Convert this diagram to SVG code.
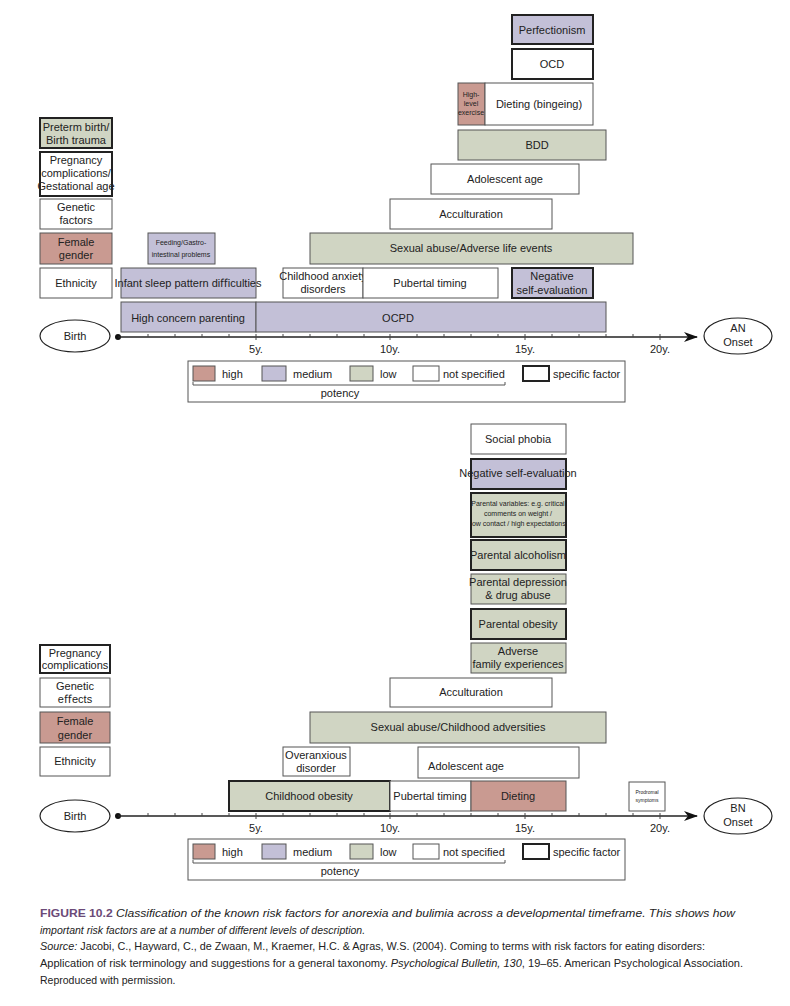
<svg xmlns="http://www.w3.org/2000/svg" width="790" height="1006" viewBox="0 0 790 1006">
<style>
text{font-family:"Liberation Sans",Arial,sans-serif;font-size:11px;fill:#222;text-anchor:middle}
.b{stroke:#555;stroke-width:1}
.s{stroke:#222;stroke-width:2}
.h{fill:#c99a91}.m{fill:#c3c0d7}.l{fill:#d0d5c3}.w{fill:#fff}
.sm{font-size:7px}.xs{font-size:5px}
.ax{stroke:#222;stroke-width:1.3;fill:none}
.tk{stroke:#444;stroke-width:1}
.lg{text-anchor:start;font-size:11px}
.cap{text-anchor:start;font-size:10.5px}
</style>
<defs>
<marker id="ar" markerWidth="14" markerHeight="10" refX="13" refY="5" orient="auto" markerUnits="userSpaceOnUse"><path d="M0,0 L14,5 L0,10 L4,5 Z" fill="#111"/></marker>
</defs>

<!-- TOP CHART -->
<g id="t-preterm"><rect x="40" y="118" width="72" height="30" class="l s"/><text x="76" y="131">Preterm birth/</text><text x="76" y="144">Birth trauma</text></g>
<g id="t-pregnancy"><rect x="40" y="152" width="72" height="44" class="w s"/><text x="76" y="164" font-size="10">Pregnancy</text><text x="76" y="177" font-size="10">complications/</text><text x="76" y="190" font-size="10">Gestational age</text></g>
<g id="t-genetic"><rect x="40" y="199" width="72" height="30" class="w b"/><text x="76" y="211">Genetic</text><text x="76" y="224">factors</text></g>
<g id="t-female"><rect x="40" y="233" width="72" height="31" class="h b"/><text x="76" y="246">Female</text><text x="76" y="259">gender</text></g>
<g id="t-ethnicity"><rect x="40" y="268" width="72" height="30" class="w b"/><text x="76" y="287">Ethnicity</text></g>
<g id="t-feeding"><rect x="148" y="233" width="67" height="31" class="m b"/><text x="181" y="245" class="sm">Feeding/Gastro-</text><text x="181" y="257" class="sm">intestinal problems</text></g>
<g id="t-sleep"><rect x="121" y="268" width="135" height="30" class="m b"/><text x="188" y="287" font-size="10">Infant sleep pattern diﬃculties</text></g>
<g id="t-anxiety"><rect x="283" y="268" width="80" height="30" class="w b"/><text x="323" y="280" font-size="10">Childhood anxiety</text><text x="323" y="293" font-size="10">disorders</text></g>
<g id="t-pubertal"><rect x="363" y="268" width="135" height="30" class="w b"/><text x="430" y="287">Pubertal timing</text></g>
<g id="t-highconcern"><rect x="121" y="302" width="135" height="30" class="m b"/><text x="188" y="322" font-size="12">High concern parenting</text></g>
<g id="t-ocpd"><rect x="256" y="302" width="350" height="30" class="m b"/><text x="398" y="322">OCPD</text></g>
<g id="t-sexual"><rect x="310" y="233" width="323" height="31" class="l b"/><text x="471" y="252">Sexual abuse/Adverse life events</text></g>
<g id="t-negative"><rect x="512" y="268" width="81" height="30" class="m s"/><text x="552" y="280" font-size="12">Negative</text><text x="552" y="294" font-size="12">self-evaluation</text></g>
<g id="t-accult"><rect x="390" y="199" width="162" height="30" class="w b"/><text x="471" y="218">Acculturation</text></g>
<g id="t-adolescent"><rect x="431" y="164" width="148" height="30" class="w b"/><text x="505" y="183">Adolescent age</text></g>
<g id="t-bdd"><rect x="458" y="130" width="148" height="30" class="l b"/><text x="537" y="149">BDD</text></g>
<g id="t-exercise"><rect x="458" y="83" width="27" height="42" class="h b"/><text x="471" y="97" class="sm">High-</text><text x="471" y="106" class="sm">level</text><text x="471" y="115" class="sm">exercise</text></g>
<g id="t-dieting"><rect x="485" y="83" width="108" height="42" class="w b"/><text x="539" y="108">Dieting (bingeing)</text></g>
<g id="t-ocd"><rect x="512" y="49" width="81" height="30" class="w s"/><text x="552" y="68">OCD</text></g>
<g id="t-perfect"><rect x="512" y="15" width="81" height="29" class="m s"/><text x="552" y="34">Perfectionism</text></g>
<g id="t-birth"><ellipse cx="75" cy="336" rx="35" ry="16" fill="#fff" stroke="#222" stroke-width="1.2"/><text x="75" y="340">Birth</text></g>
<g id="t-onset"><ellipse cx="738" cy="336" rx="34" ry="18" fill="#fff" stroke="#222" stroke-width="1.2"/><text x="738" y="332">AN</text><text x="738" y="346">Onset</text></g>

<g id="t-connectors">
<circle cx="118" cy="337" r="3" fill="#111"/>
<line x1="118" y1="337" x2="697" y2="337" class="ax" marker-end="url(#ar)"/>
<path class="tk" d="M148,334v3M175,334v3M202,334v3M229,334v3M256,334v6M283,334v3M310,334v3M337,334v3M364,334v3M390,334v6M417,334v3M444,334v3M471,334v3M498,334v3M525,334v6M552,334v3M579,334v3M606,334v3M633,334v3M660,334v6"/>
</g>
<g id="t-axislabels"><text x="256" y="353">5y.</text><text x="390" y="353">10y.</text><text x="525" y="353">15y.</text><text x="660" y="353">20y.</text></g>

<g id="t-legend">
<rect x="188" y="361" width="437" height="41" fill="#fff" stroke="#555"/>
<rect x="193" y="366" width="22" height="15" class="h b"/><text x="222" y="378" class="lg">high</text>
<rect x="262" y="366" width="24" height="15" class="m b"/><text x="293" y="378" class="lg">medium</text>
<rect x="350" y="366" width="23" height="15" class="l b"/><text x="380" y="378" class="lg">low</text>
<rect x="413" y="366" width="26" height="15" class="w b"/><text x="443" y="378" class="lg">not speciﬁed</text>
<rect x="523" y="366" width="26" height="15" class="w s"/><text x="553" y="378" class="lg">speciﬁc factor</text>
<path d="M193,382v3h312v-3" fill="none" stroke="#555"/>
<text x="340" y="397">potency</text>
</g>

<!-- BOTTOM CHART -->
<g id="b-pregnancy"><rect x="40" y="645" width="70" height="28" class="w s"/><text x="75" y="657" font-size="10">Pregnancy</text><text x="75" y="669" font-size="10">complications</text></g>
<g id="b-genetic"><rect x="40" y="678" width="70" height="29" class="w b"/><text x="75" y="690">Genetic</text><text x="75" y="703">eﬀects</text></g>
<g id="b-female"><rect x="40" y="712" width="70" height="31" class="h b"/><text x="75" y="725">Female</text><text x="75" y="739">gender</text></g>
<g id="b-ethnicity"><rect x="40" y="747" width="70" height="29" class="w b"/><text x="75" y="765">Ethnicity</text></g>
<g id="b-overanxious"><rect x="283" y="747" width="67" height="29" class="w b"/><text x="316" y="759">Overanxious</text><text x="316" y="772">disorder</text></g>
<g id="b-adolescent"><rect x="418" y="747" width="161" height="31" class="w b"/><text x="466" y="770">Adolescent age</text></g>
<g id="b-obesity"><rect x="229" y="781" width="161" height="30" class="l s"/><text x="309" y="800">Childhood obesity</text></g>
<g id="b-pubertal"><rect x="390" y="781" width="81" height="30" class="w b"/><text x="430" y="800">Pubertal timing</text></g>
<g id="b-dieting"><rect x="471" y="781" width="95" height="30" class="h b"/><text x="518" y="800">Dieting</text></g>
<g id="b-prodromal"><rect x="629" y="782" width="36" height="29" class="w b"/><text x="647" y="794" class="xs">Prodromal</text><text x="647" y="802" class="xs">symptoms</text></g>
<g id="b-sexual"><rect x="310" y="712" width="296" height="31" class="l b"/><text x="458" y="731">Sexual abuse/Childhood adversities</text></g>
<g id="b-accult"><rect x="390" y="678" width="162" height="29" class="w b"/><text x="471" y="696">Acculturation</text></g>
<g id="b-adverse"><rect x="471" y="643" width="95" height="30" class="l b"/><text x="518" y="655">Adverse</text><text x="518" y="668">family experiences</text></g>
<g id="b-pobesity"><rect x="471" y="609" width="95" height="30" class="l s"/><text x="518" y="628">Parental obesity</text></g>
<g id="b-pdepression"><rect x="471" y="574" width="95" height="30" class="l b"/><text x="518" y="586" font-size="10.5">Parental depression</text><text x="518" y="599" font-size="10.5">&amp; drug abuse</text></g>
<g id="b-palcohol"><rect x="471" y="540" width="95" height="30" class="l s"/><text x="518" y="559" font-size="10.5">Parental alcoholism</text></g>
<g id="b-pvariables"><rect x="471" y="493" width="95" height="44" class="l s"/><text x="518" y="506" class="sm">Parental variables: e.g. critical</text><text x="518" y="516" class="sm">comments on weight /</text><text x="518" y="526" class="sm">low contact / high expectations</text></g>
<g id="b-negative"><rect x="471" y="459" width="95" height="30" class="m s"/><text x="518" y="477" font-size="8.5">Negative self-evaluation</text></g>
<g id="b-social"><rect x="471" y="424" width="95" height="30" class="w b"/><text x="518" y="443">Social phobia</text></g>
<g id="b-birth"><ellipse cx="75" cy="816" rx="35" ry="16" fill="#fff" stroke="#222" stroke-width="1.2"/><text x="75" y="820">Birth</text></g>
<g id="b-onset"><ellipse cx="738" cy="816" rx="34" ry="18" fill="#fff" stroke="#222" stroke-width="1.2"/><text x="738" y="812">BN</text><text x="738" y="826">Onset</text></g>

<g id="b-connectors">
<circle cx="118" cy="816" r="3" fill="#111"/>
<line x1="118" y1="816" x2="697" y2="816" class="ax" marker-end="url(#ar)"/>
<path class="tk" d="M148,813v3M175,813v3M202,813v3M229,813v3M256,813v6M283,813v3M310,813v3M337,813v3M364,813v3M390,813v6M417,813v3M444,813v3M471,813v3M498,813v3M525,813v6M552,813v3M579,813v3M606,813v3M633,813v3M660,813v6"/>
</g>
<g id="b-axislabels"><text x="256" y="832">5y.</text><text x="390" y="832">10y.</text><text x="525" y="832">15y.</text><text x="660" y="832">20y.</text></g>

<g id="b-legend">
<rect x="188" y="839" width="437" height="41" fill="#fff" stroke="#555"/>
<rect x="193" y="844" width="22" height="15" class="h b"/><text x="222" y="856" class="lg">high</text>
<rect x="262" y="844" width="24" height="15" class="m b"/><text x="293" y="856" class="lg">medium</text>
<rect x="350" y="844" width="23" height="15" class="l b"/><text x="380" y="856" class="lg">low</text>
<rect x="413" y="844" width="26" height="15" class="w b"/><text x="443" y="856" class="lg">not speciﬁed</text>
<rect x="523" y="844" width="26" height="15" class="w s"/><text x="553" y="856" class="lg">speciﬁc factor</text>
<path d="M193,860v3h312v-3" fill="none" stroke="#555"/>
<text x="340" y="875">potency</text>
</g>

<g id="caption">
<text x="40" y="917" class="cap" textLength="695" lengthAdjust="spacingAndGlyphs"><tspan font-weight="bold" fill="#6b4a78" font-style="normal">FIGURE 10.2</tspan><tspan font-style="italic"> Classification of the known risk factors for anorexia and bulimia across a developmental timeframe. This shows how</tspan></text>
<text x="40" y="934" class="cap" font-style="italic">important risk factors are at a number of different levels of description.</text>
<text x="40" y="950" class="cap" font-size="9.5" textLength="665" lengthAdjust="spacingAndGlyphs"><tspan font-style="italic">Source:</tspan> Jacobi, C., Hayward, C., de Zwaan, M., Kraemer, H.C. &amp; Agras, W.S. (2004). Coming to terms with risk factors for eating disorders:</text>
<text x="40" y="967" class="cap" font-size="9.5" textLength="703" lengthAdjust="spacingAndGlyphs">Application of risk terminology and suggestions for a general taxonomy. <tspan font-style="italic">Psychological Bulletin, 130</tspan>, 19–65. American Psychological Association.</text>
<text x="40" y="984" class="cap" font-size="9.5">Reproduced with permission.</text>
</g>
</svg>
